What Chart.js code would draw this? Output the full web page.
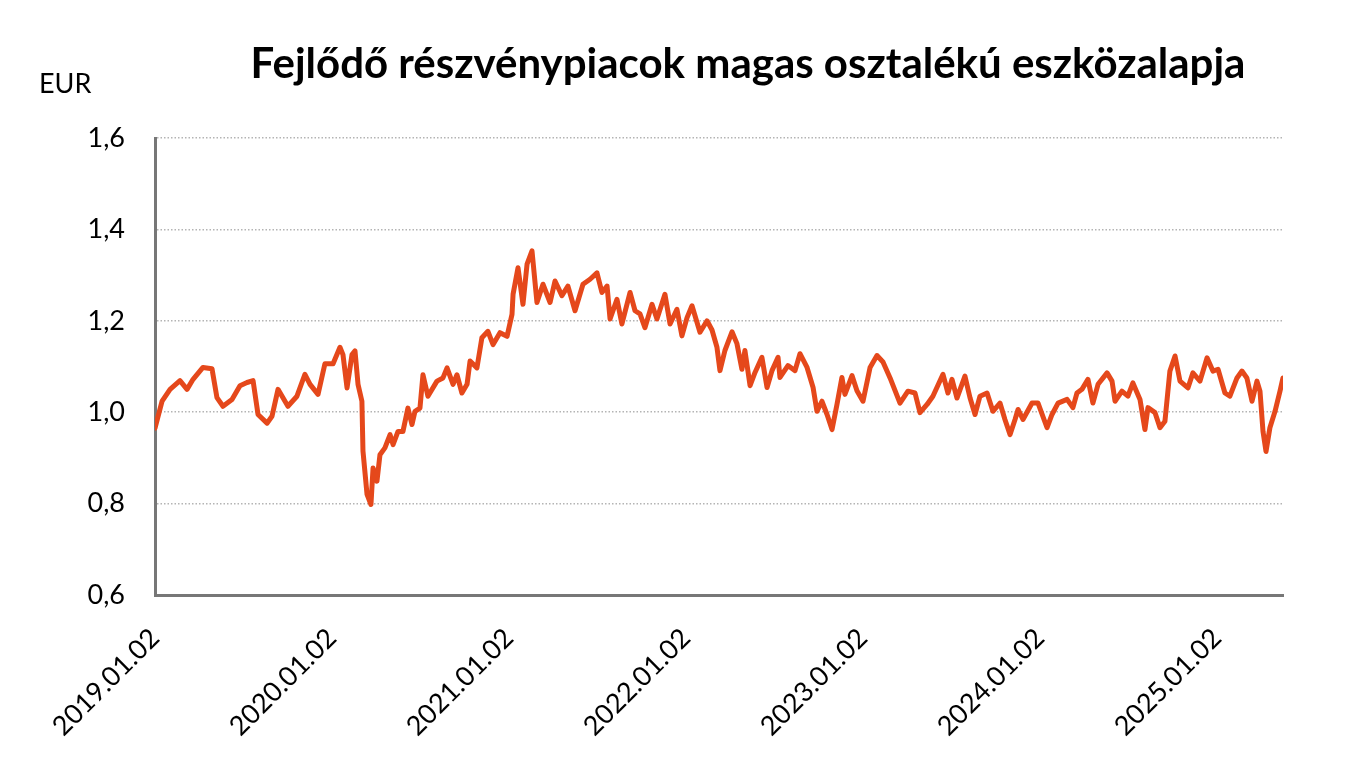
<!DOCTYPE html>
<html>
<head>
<meta charset="utf-8">
<script src="https://cdn.jsdelivr.net/npm/chart.js@4.4.1/dist/chart.umd.min.js"></script>
<style>
  body { margin: 0; background: #fff; }
</style>
</head>
<body>
<canvas id="lineChart" width="1368" height="771"></canvas>
<script>
// years after 2019.01.02 and the fund price in EUR
const yearPos = [
  0, 0.040, 0.085, 0.141, 0.181, 0.215, 0.271, 0.322, 0.350, 0.384,
  0.435, 0.480, 0.520, 0.554, 0.582, 0.633, 0.661, 0.695, 0.751, 0.802,
  0.847, 0.876, 0.921, 0.960, 1.006, 1.045, 1.062, 1.085, 1.113, 1.130,
  1.147, 1.169, 1.175, 1.198, 1.220, 1.232, 1.254, 1.271, 1.299, 1.328,
  1.345, 1.373, 1.401, 1.429, 1.452, 1.469, 1.497, 1.514, 1.542, 1.593,
  1.627, 1.650, 1.684, 1.706, 1.734, 1.763, 1.780, 1.819, 1.847, 1.881,
  1.910, 1.949, 1.989, 2.017, 2.023, 2.051, 2.079, 2.102, 2.130, 2.158,
  2.192, 2.232, 2.260, 2.299, 2.333, 2.373, 2.418, 2.458, 2.497, 2.525,
  2.554, 2.571, 2.610, 2.638, 2.684, 2.712, 2.740, 2.768, 2.808, 2.836,
  2.881, 2.910, 2.949, 2.977, 3.006, 3.034, 3.079, 3.119, 3.147, 3.175,
  3.192, 3.220, 3.260, 3.288, 3.316, 3.333, 3.362, 3.390, 3.429, 3.458,
  3.486, 3.520, 3.531, 3.576, 3.616, 3.644, 3.684, 3.718, 3.740, 3.768,
  3.797, 3.825, 3.853, 3.881, 3.898, 3.938, 3.966, 4.000, 4.040, 4.079,
  4.113, 4.153, 4.209, 4.254, 4.294, 4.322, 4.362, 4.395, 4.452, 4.480,
  4.503, 4.531, 4.576, 4.605, 4.633, 4.661, 4.701, 4.734, 4.774, 4.802,
  4.831, 4.859, 4.876, 4.904, 4.955, 4.989, 5.040, 5.068, 5.102, 5.153,
  5.186, 5.209, 5.237, 5.271, 5.299, 5.328, 5.379, 5.407, 5.424, 5.463,
  5.497, 5.525, 5.565, 5.593, 5.610, 5.650, 5.678, 5.706, 5.734, 5.763,
  5.791, 5.836, 5.864, 5.904, 5.944, 5.977, 6.006, 6.045, 6.073, 6.113,
  6.141, 6.169, 6.198, 6.226, 6.243, 6.260, 6.277, 6.299, 6.328, 6.356,
  6.373
]

const prices = [
  0.965, 1.024, 1.050, 1.069, 1.050, 1.072, 1.098, 1.095, 1.032, 1.013,
  1.028, 1.058, 1.065, 1.069, 0.995, 0.976, 0.991, 1.050, 1.013, 1.035,
  1.083, 1.061, 1.039, 1.106, 1.106, 1.142, 1.126, 1.053, 1.126, 1.134,
  1.061, 1.024, 0.915, 0.820, 0.798, 0.878, 0.849, 0.907, 0.922, 0.951,
  0.929, 0.958, 0.958, 1.009, 0.973, 1.002, 1.009, 1.082, 1.035, 1.068,
  1.075, 1.097, 1.061, 1.082, 1.042, 1.061, 1.112, 1.097, 1.163, 1.177,
  1.148, 1.174, 1.166, 1.214, 1.258, 1.316, 1.236, 1.324, 1.353, 1.240,
  1.280, 1.240, 1.287, 1.255, 1.276, 1.222, 1.280, 1.291, 1.305, 1.262,
  1.276, 1.204, 1.247, 1.193, 1.262, 1.222, 1.215, 1.185, 1.236, 1.204,
  1.258, 1.193, 1.225, 1.167, 1.207, 1.233, 1.175, 1.200, 1.180, 1.142,
  1.091, 1.135, 1.176, 1.150, 1.094, 1.135, 1.058, 1.087, 1.120, 1.054,
  1.091, 1.120, 1.076, 1.102, 1.091, 1.128, 1.098, 1.054, 1.002, 1.024,
  0.995, 0.962, 1.017, 1.076, 1.039, 1.080, 1.047, 1.024, 1.098, 1.124,
  1.110, 1.075, 1.020, 1.046, 1.042, 0.999, 1.017, 1.035, 1.083, 1.042,
  1.072, 1.031, 1.079, 1.031, 0.995, 1.035, 1.042, 1.002, 1.020, 0.984,
  0.951, 0.984, 1.006, 0.984, 1.020, 1.020, 0.966, 0.995, 1.020, 1.028,
  1.010, 1.042, 1.050, 1.072, 1.020, 1.061, 1.086, 1.068, 1.024, 1.046,
  1.035, 1.064, 1.028, 0.962, 1.010, 0.999, 0.966, 0.980, 1.090, 1.123,
  1.068, 1.053, 1.086, 1.068, 1.119, 1.090, 1.094, 1.042, 1.035, 1.075,
  1.090, 1.075, 1.024, 1.068, 1.046, 0.958, 0.914, 0.966, 1.002, 1.046,
  1.075
]

const yearLabels = ['2019.01.02', '2020.01.02', '2021.01.02', '2022.01.02', '2023.01.02', '2024.01.02', '2025.01.02']

const chartTitle = 'Fejlődő részvénypiacok magas osztalékú eszközalapja'
const unitLabel = 'EUR'

const points = yearPos.map((t, i) => ({ x: t, y: prices[i] }))

// title and unit text above the plot
const headerText = {
  id: 'headerText',
  afterDraw(chart) {
    const ctx = chart.ctx
    ctx.save()
    ctx.fillStyle = '#000'
    ctx.textBaseline = 'alphabetic'
    ctx.font = 'bold 42px Lato'
    ctx.textAlign = 'center'
    ctx.fillText(chartTitle, 748, 78)
    ctx.font = '27px Lato'
    ctx.textAlign = 'left'
    ctx.fillText(unitLabel, 39, 93)
    ctx.restore()
  }
}

const ctx = document.getElementById('lineChart').getContext('2d')

const myChart = new Chart(ctx, {
  type: 'line',
  data: {
    datasets: [{
      data: points,
      borderColor: '#E5481B',
      borderWidth: 5,
      pointRadius: 0,
      tension: 0,
      borderJoinStyle: 'round',
      borderCapStyle: 'round'
    }]
  },
  options: {
    responsive: false,
    animation: false,
    layout: { padding: { top: 138, right: 85, left: 0, bottom: 0 } },
    plugins: {
      legend: { display: false },
      tooltip: { enabled: false }
    },
    scales: {
      x: {
        type: 'linear',
        min: 0,
        max: yearPos[yearPos.length - 1],
        afterFit: (scale) => { scale.height = 176 },
        grid: { display: false, drawTicks: false },
        border: { color: '#777', width: 3 },
        ticks: {
          stepSize: 1,
          includeBounds: false,
          autoSkip: false,
          minRotation: 45,
          maxRotation: 45,
          padding: 27,
          color: '#000',
          font: { family: 'Lato', size: 27 },
          callback: (v) => Number.isInteger(v) ? yearLabels[v] : ''
        }
      },
      y: {
        min: 0.6,
        max: 1.6,
        afterFit: (scale) => { scale.width = 155 },
        grid: {
          drawTicks: false,
          color: (c) => c.tick && c.tick.value <= 0.6 ? 'rgba(0,0,0,0)' : '#b4b4b4',
          lineWidth: 1.5
        },
        // in v4 border.dash styles the grid lines
        border: { color: '#777', width: 3, dash: [1.5, 2] },
        ticks: {
          stepSize: 0.2,
          padding: 30,
          color: '#000',
          font: { family: 'Lato', size: 27 },
          callback: (v) => v.toFixed(1).replace('.', ',')
        }
      }
    }
  },
  plugins: [headerText]
})
</script>
</body>
</html>
